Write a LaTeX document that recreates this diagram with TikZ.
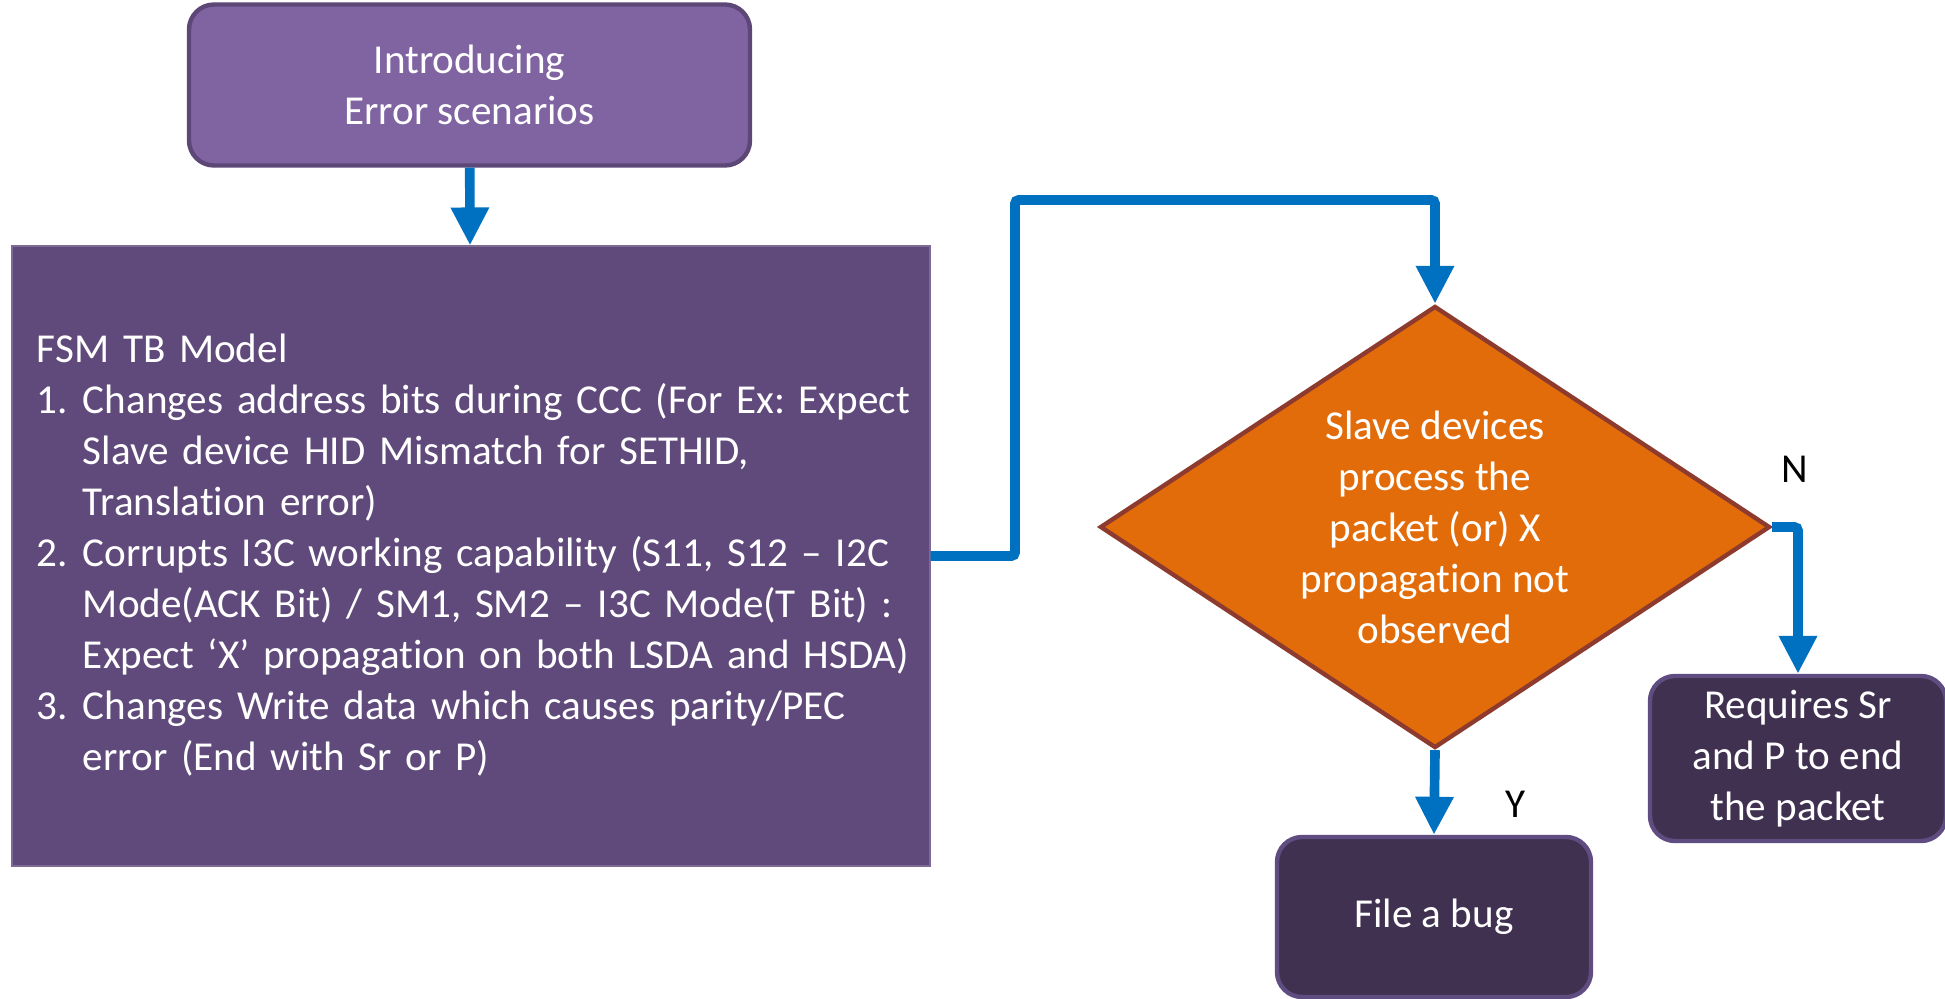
\documentclass[tikz,border=0pt]{standalone}
\usepackage{fontspec}
\setmainfont{Carlito}[Ligatures = NoCommon]
\usepackage{tikz}
\usetikzlibrary{shapes, shapes.geometric, arrows.meta}
\definecolor{mauve}{HTML}{8064A2}
\definecolor{mauvebord}{HTML}{5C4776}
\definecolor{prune}{HTML}{604A7B}
\definecolor{pruneclair}{HTML}{7D6A96}
\definecolor{sombre}{HTML}{403151}
\definecolor{sombrebord}{HTML}{5F4C80}
\definecolor{orangefonce}{HTML}{E36C0A}
\definecolor{brique}{HTML}{8E3B2F}
\definecolor{bleu}{HTML}{0070C0}
\frenchspacing
\tikzstyle{mauvebox} = [
    rectangle,
    rounded corners = 0.5cm,
    fill = mauve,
    draw = mauvebord,
    line width = 2.5pt,
    text = white,
    align = center,
    minimum width = 11.22cm,
    minimum height = 3.22cm,
]
\tikzstyle{sombrebox} = [
    rectangle,
    rounded corners = 0.5cm,
    fill = sombre,
    draw = sombrebord,
    line width = 2.5pt,
    text = white,
    align = center,
]
\tikzstyle{decision} = [
    diamond,
    aspect = 1.516,
    fill = orangefonce,
    draw = brique,
    line width = 2.5pt,
    text = white,
    align = center,
    inner sep = 0pt,
    minimum width = 13.4cm,
    minimum height = 8.84cm,
]
\tikzstyle{fleche} = [
    draw = bleu,
    line width = 5.5pt,
    rounded corners = 2pt,
    -{Triangle[width = 0.72cm, length = 0.76cm]},
]
\begin{document}
\begin{tikzpicture} [font = \fontsize{23.4}{29}\selectfont]
    \useasboundingbox (0,0) rectangle (38.9,-19.98);

    \node (intro) [mauvebox] at (9.39,-1.7) {Introducing \\ Error scenarios};
    % liste numerotee: pas de coupure de ligne automatique
    \node (fsm) [rectangle, fill = prune, draw = pruneclair, line width = 0.6pt, text = white, align = left, inner sep = 0.5cm, text width = 17.36cm, minimum height = 12.4cm] at (9.42,-11.12) {%
        \begin{tabular}{@{}p{0.92cm}@{}l@{}}
        \multicolumn{2}{@{}l@{}}{FSM TB Model} \\
        1. & Changes address bits during CCC (For Ex: Expect \\
           & Slave device HID Mismatch for SETHID, \\
           & Translation error) \\
        2. & Corrupts I3C working capability (S11, S12 -- I2C \\
           & Mode(ACK Bit) / SM1, SM2 -- I3C Mode(T Bit) : \\
           & Expect ‘X’ propagation on both LSDA and HSDA) \\
        3. & Changes Write data which causes parity/PEC \\
           & error (End with Sr or P)
        \end{tabular}};
    \node (test) [decision] at (28.7,-10.54) {Slave devices \\ process the \\ packet (or) X \\ propagation not \\ observed};
    \node (req) [sombrebox, minimum width = 5.92cm, minimum height = 3.3cm] at (35.96,-15.17) {Requires Sr \\ and P to end \\ the packet};
    \node (bug) [sombrebox, minimum width = 6.28cm, minimum height = 3.2cm] at (28.68,-18.34) {File a bug};
    \coordinate (coude) at (20.3,-4.0);

    \draw[fleche] (intro) -- (fsm);
    \draw[fleche] (fsm.east) -| (coude) -| (test.north);
    \draw[fleche] (test.east) -| (req.north);
    \draw[fleche] (test.south) -- (bug.north);

    \node (non) at (35.9,-9.38) {N};
    \node (oui) at (30.32,-16.08) {Y};
\end{tikzpicture}
\end{document}
